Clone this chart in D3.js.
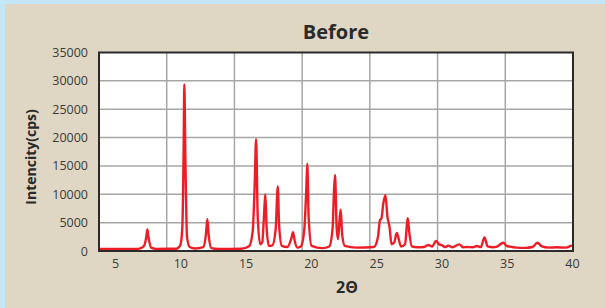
<!DOCTYPE html>
<html lang="en">
<meta charset="UTF-8">
<title>Before</title>
<style>
  body { margin: 0; background: #c4e7f7; }
  svg { display: block; }
  .tick text { font-family: "Open Sans", sans-serif; font-size: 12.5px; fill: #3a3a3a; }
</style>
<body>
<script src="https://cdnjs.cloudflare.com/ajax/libs/d3/7.8.5/d3.min.js"></script>
<script>

// 2theta (deg) and intensity (cps)
var twoTheta = [5.0, 7.9, 8.3, 8.5, 8.57, 8.65, 8.85, 9.2, 10.7, 11.0, 11.15, 11.25, 11.3, 11.38, 11.5, 11.7, 12.1,
  12.7, 12.9, 13.0, 13.1, 13.3, 13.8, 15.5, 16.1, 16.35, 16.5, 16.6, 16.72, 16.9, 17.05, 17.2, 17.28, 17.38, 17.55,
  17.8, 18.05, 18.2, 18.3, 18.5, 18.9, 19.2, 19.33, 19.45, 19.65, 19.9, 20.15, 20.3, 20.38, 20.48, 20.7, 21.5,
  22.0, 22.25, 22.35, 22.43, 22.55, 22.65, 22.78, 22.85, 22.95, 23.15, 24.0, 25.3, 25.6, 25.75, 25.85, 26.0, 26.15,
  26.3, 26.45, 26.6, 26.8, 26.95, 27.0, 27.1, 27.3, 27.6, 27.75, 27.8, 27.9, 28.1, 28.5, 29.0, 29.32, 29.6, 29.89,
  30.1, 30.31, 30.55, 30.8, 31.1, 31.6, 31.9, 32.16, 32.6, 32.9, 33.2, 33.46, 33.7, 34.1, 34.37, 34.86, 35.1, 35.35,
  35.8, 36.5, 37.0, 37.37, 37.7, 38.2, 38.8, 39.5, 39.9, 40.0];
var counts = [350, 380, 800, 2600, 3800, 2500, 600, 380, 400, 1000, 4000, 18000, 29400, 16000, 2500, 700, 450,
  700, 3000, 5600, 2800, 500, 350, 400, 900, 3500, 12000, 19700, 6000, 1200, 1500, 7000, 10000, 4000, 900,
  1000, 4000, 11400, 4500, 900, 700, 2200, 3300, 1800, 600, 800, 3500, 10500, 15400, 6000, 900, 500,
  800, 4000, 10500, 13400, 4000, 2100, 6000, 7300, 3000, 900, 600, 700, 2500, 5500, 5700, 8500, 9850,
  6000, 4300, 1200, 1500, 3000, 3200, 2400, 800, 1200, 5000, 5800, 3500, 800, 650, 700, 1050, 800, 1760,
  1200, 1050, 700, 940, 650, 1170, 650, 700, 650, 880, 700, 2410, 800, 650, 760, 1460, 900, 760,
  600, 550, 700, 1460, 800, 600, 650, 600, 940, 900];

var xTicks = [5, 10, 15, 20, 25, 30, 35, 40];
var yTicks = [0, 5000, 10000, 15000, 20000, 25000, 30000, 35000];

var W = 605, H = 308;
var pLeft = 99, pRight = 573, pTop = 52.5, pBottom = 251;

var svg = d3.select("body").append("svg")
  .attr("width", W)
  .attr("height", H);

// beige panel
svg.append("rect")
  .attr("x", 5).attr("y", 4)
  .attr("width", W - 5).attr("height", H - 4)
  .attr("fill", "#dfd7c3");

var x = d3.scaleLinear().domain([5, 40]).range([pLeft, pRight]);
// the printed tick labels sit a little off the grid in the original
var xLab = d3.scaleLinear().domain([5, 40]).range([115, 572]);
var y = d3.scaleLinear().domain([0, 35000]).range([pBottom, pTop]);

svg.append("rect")
  .attr("x", pLeft).attr("y", pTop)
  .attr("width", pRight - pLeft).attr("height", pBottom - pTop)
  .attr("fill", "#fff");

// grid
svg.append("g").selectAll("line")
  .data(xTicks.slice(1, -1))
  .enter().append("line")
  .attr("x1", function(d) { return x(d); })
  .attr("x2", function(d) { return x(d); })
  .attr("y1", pTop).attr("y2", pBottom)
  .attr("stroke", "#a6a6a6")
  .attr("stroke-width", 1.5);

svg.append("g").selectAll("line")
  .data(yTicks.slice(1, -1))
  .enter().append("line")
  .attr("x1", pLeft).attr("x2", pRight)
  .attr("y1", function(d) { return y(d); })
  .attr("y2", function(d) { return y(d); })
  .attr("stroke", "#a6a6a6")
  .attr("stroke-width", 1.5);

var pts = twoTheta.map(function(t, i) { return [t, counts[i]]; });

svg.append("path")
  .datum(pts)
  .attr("fill", "none")
  .attr("stroke", "#ee1c25")
  .attr("stroke-width", 2.4)
  .attr("stroke-linejoin", "round")
  .attr("d", d3.line()
    .x(function(d) { return x(d[0]); })
    .y(function(d) { return y(d[1]); })
    .curve(d3.curveMonotoneX));

// frame
svg.append("rect")
  .attr("x", pLeft).attr("y", pTop)
  .attr("width", pRight - pLeft).attr("height", pBottom - pTop)
  .attr("fill", "none")
  .attr("stroke", "#2b2b2b")
  .attr("stroke-width", 2);

// axes (labels only)
var gx = svg.append("g")
  .attr("transform", "translate(0," + (pBottom + 4) + ")")
  .call(d3.axisBottom(xLab).tickValues(xTicks).tickSize(0).tickPadding(4));
gx.select(".domain").remove();

var gy = svg.append("g")
  .attr("transform", "translate(" + (pLeft - 11) + ",0)")
  .call(d3.axisLeft(y).tickValues(yTicks).tickSize(0).tickPadding(0).tickFormat(d3.format("d")));
gy.select(".domain").remove();

// titles
svg.append("text")
  .attr("x", 336).attr("y", 39)
  .attr("text-anchor", "middle")
  .style("font-family", "'Open Sans', sans-serif")
  .style("font-weight", "bold")
  .style("font-size", "20px")
  .style("fill", "#2a2a2a")
  .text("Before");

svg.append("text")
  .attr("x", 347).attr("y", 293)
  .attr("text-anchor", "middle")
  .style("font-family", "'Open Sans', sans-serif")
  .style("font-weight", "bold")
  .style("font-size", "16px")
  .style("fill", "#2a2a2a")
  .text("2Θ");

svg.append("text")
  .attr("transform", "translate(36,157) rotate(-90)")
  .attr("text-anchor", "middle")
  .style("font-family", "'Open Sans', sans-serif")
  .style("font-weight", "bold")
  .style("font-size", "14px")
  .style("fill", "#2a2a2a")
  .text("Intencity(cps)");

</script>
</body>
</html>
